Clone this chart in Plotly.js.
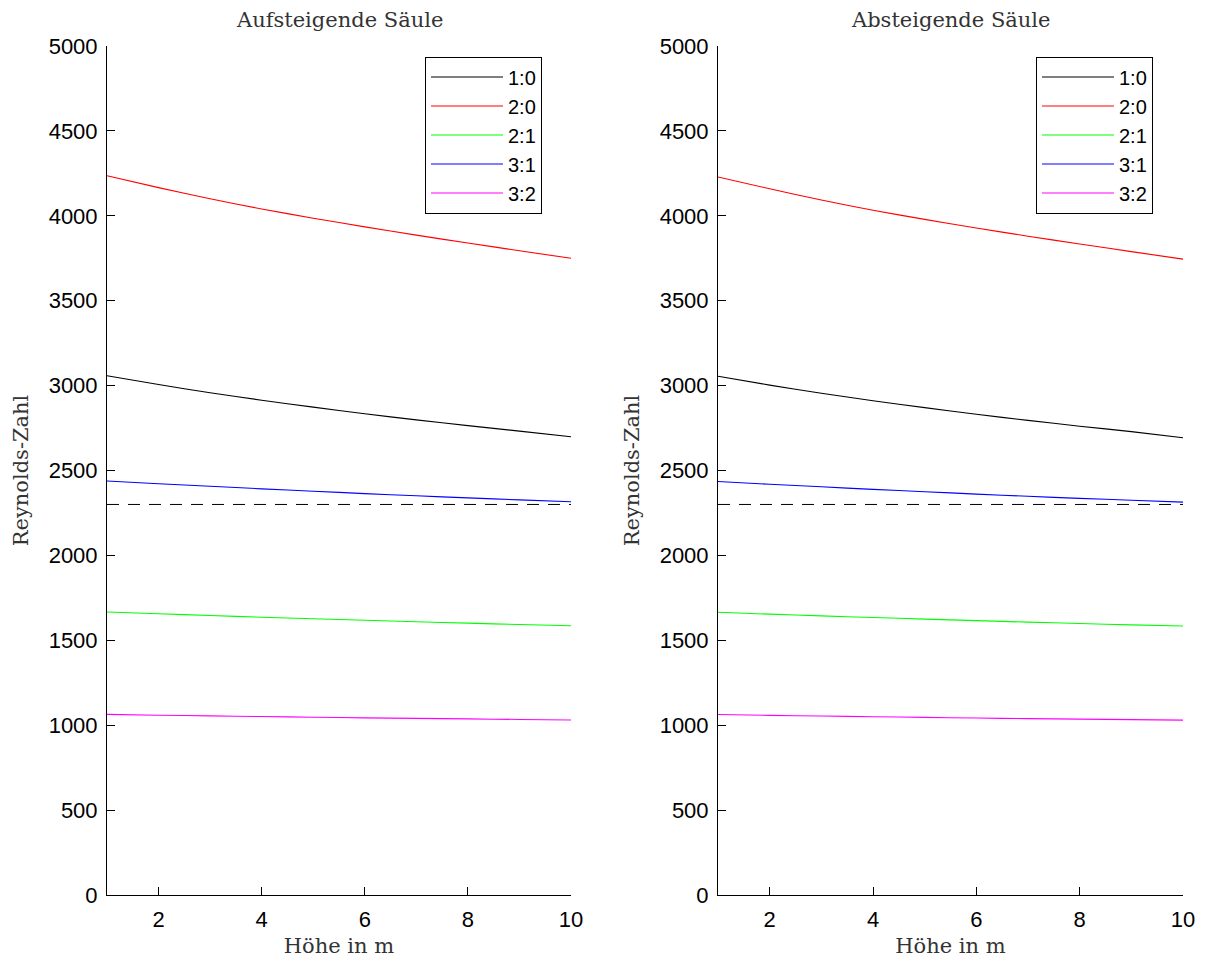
<!DOCTYPE html>
<html>
<head>
<meta charset="utf-8">
<script src="https://cdn.plot.ly/plotly-3.0.1.min.js"></script>
<style>html,body{margin:0;padding:0;background:#fff;}#chart{width:1208px;height:964px;}</style>
</head>
<body>
<div id="chart"></div>
<script>
// Data
const heights = [1, 2, 3, 4, 5, 6, 7, 8, 9, 10];
const seriesNames = ['1:0', '2:0', '2:1', '3:1', '3:2'];
const seriesColors = ['#000000', '#ff0000', '#00ff00', '#0000ff', '#ff00ff'];
// Aufsteigende Säule
const up_1_0 = [3058, 3006, 2958, 2914, 2873, 2834, 2798, 2764, 2732, 2699];
const up_2_0 = [4236, 4166, 4100, 4040, 3986, 3935, 3886, 3840, 3794, 3750];
const up_2_1 = [1667, 1656, 1646, 1636, 1627, 1618, 1609, 1601, 1593, 1586];
const up_3_1 = [2438, 2422, 2407, 2392, 2378, 2364, 2351, 2339, 2327, 2316];
const up_3_2 = [1064, 1059, 1055, 1051, 1047, 1043, 1040, 1037, 1034, 1031];
// Absteigende Säule
const down_1_0 = [3055, 3003, 2955, 2911, 2870, 2831, 2795, 2761, 2729, 2693];
const down_2_0 = [4229, 4159, 4093, 4033, 3979, 3928, 3880, 3834, 3789, 3745];
const down_2_1 = [1665, 1654, 1644, 1634, 1625, 1616, 1607, 1599, 1591, 1584];
const down_3_1 = [2435, 2419, 2404, 2389, 2375, 2361, 2348, 2336, 2325, 2314];
const down_3_2 = [1063, 1058, 1054, 1050, 1046, 1042, 1039, 1036, 1033, 1030];
const criticalRe = 2300;
const titles = ['Aufsteigende Säule', 'Absteigende Säule'];
const xLabel = 'Höhe in m';
const yLabel = 'Reynolds-Zahl';

const upSeries = [up_1_0, up_2_0, up_2_1, up_3_1, up_3_2];
const downSeries = [down_1_0, down_2_0, down_2_1, down_3_1, down_3_2];

const traces = [];
[[upSeries, 'x', 'y', 'legend'], [downSeries, 'x2', 'y2', 'legend2']].forEach(([set, xa, ya, lg]) => {
  set.forEach((vals, i) => {
    traces.push({
      x: heights, y: vals, xaxis: xa, yaxis: ya, legend: lg,
      type: 'scatter', mode: 'lines', name: seriesNames[i],
      line: {color: seriesColors[i], width: 1.1, shape: 'spline', smoothing: 0.6},
      hoverinfo: 'skip'
    });
  });
  traces.push({
    x: [heights[0], heights[heights.length - 1]], y: [criticalRe, criticalRe],
    xaxis: xa, yaxis: ya, type: 'scatter', mode: 'lines', showlegend: false,
    line: {color: '#000000', width: 1, dash: '12px,9px'}, hoverinfo: 'skip'
  });
});

const W = 1208, H = 964;
const tickFont = {family: 'Liberation Sans, Arial, sans-serif', size: 22, color: '#000'};
const serifFont = {family: 'DejaVu Serif, serif', size: 21, color: '#333'};

function xAxis(domain, anchor) {
  return {
    domain: domain, anchor: anchor, range: [1, 10],
    tickvals: [2, 4, 6, 8, 10], ticks: 'inside', ticklen: 8, tickcolor: '#000', tickwidth: 1,
    showline: true, linecolor: '#000', linewidth: 1, mirror: false,
    showgrid: false, zeroline: false, tickfont: tickFont, ticklabelstandoff: 5,
    title: {text: xLabel, font: serifFont, standoff: 6}
  };
}
function yAxis(domain, anchor) {
  return {
    domain: domain, anchor: anchor, range: [0, 5000],
    tickvals: [0, 500, 1000, 1500, 2000, 2500, 3000, 3500, 4000, 4500, 5000],
    ticks: 'inside', ticklen: 8, tickcolor: '#000', tickwidth: 1,
    showline: true, linecolor: '#000', linewidth: 1, mirror: false,
    showgrid: false, zeroline: false, tickfont: tickFont, ticklabelstandoff: 4,
    title: {text: yLabel, font: serifFont, standoff: 14}
  };
}
const yDom = [(H - 895) / H, (H - 46) / H];
const x1Dom = [107 / W, 571 / W];
const x2Dom = [718 / W, 1183 / W];

const legendBase = {
  yanchor: 'top', xanchor: 'left', y: 1 - 56.5 / H,
  bgcolor: '#fff', bordercolor: '#000', borderwidth: 1,
  font: {family: 'Liberation Sans, Arial, sans-serif', size: 20, color: '#000'},
  itemwidth: 72, tracegroupgap: 0
};

const layout = {
  width: W, height: H,
  margin: {l: 0, r: 0, t: 0, b: 0},
  paper_bgcolor: '#fff', plot_bgcolor: '#fff',
  showlegend: true,
  xaxis: xAxis(x1Dom, 'y'),
  yaxis: yAxis(yDom, 'x'),
  xaxis2: xAxis(x2Dom, 'y2'),
  yaxis2: yAxis(yDom, 'x2'),
  legend: Object.assign({}, legendBase, {x: 425 / W}),
  legend2: Object.assign({}, legendBase, {x: 1036 / W}),
  annotations: [
    {text: titles[0], xref: 'paper', yref: 'paper', x: (x1Dom[0] + x1Dom[1]) / 2, y: 1 - 20 / H,
     xanchor: 'center', yanchor: 'middle', showarrow: false, font: serifFont},
    {text: titles[1], xref: 'paper', yref: 'paper', x: (x2Dom[0] + x2Dom[1]) / 2, y: 1 - 20 / H,
     xanchor: 'center', yanchor: 'middle', showarrow: false, font: serifFont}
  ]
};

Plotly.newPlot('chart', traces, layout, {displayModeBar: false, staticPlot: true});
</script>
</body>
</html>
